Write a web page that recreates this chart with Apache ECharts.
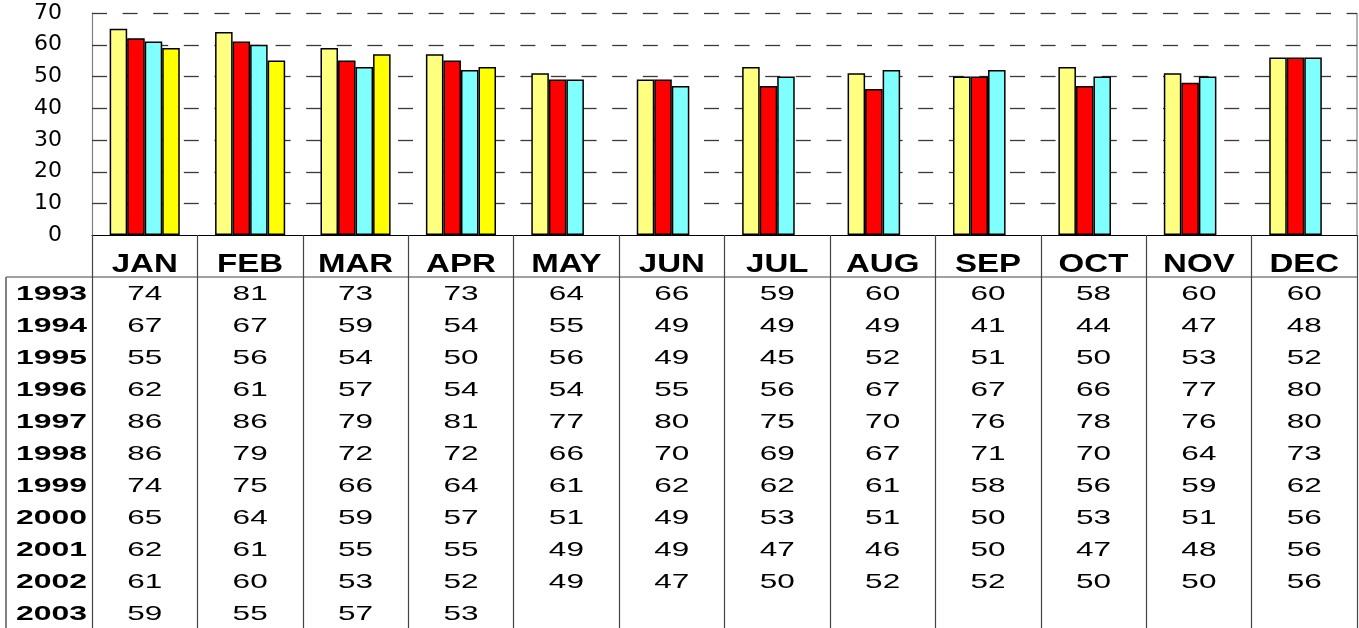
<!DOCTYPE html>
<html>
<head>
<meta charset="utf-8">
<script src="https://cdn.jsdelivr.net/npm/echarts@6/dist/echarts.min.js"></script>
<style>
html,body{margin:0;padding:0;background:#fff;}
#c{width:1359px;height:628px;}
</style>
</head>
<body>
<div id="c"></div>
<script>
// ---- data ----
const months = ['JAN','FEB','MAR','APR','MAY','JUN','JUL','AUG','SEP','OCT','NOV','DEC'];
const years = ['1993','1994','1995','1996','1997','1998','1999','2000','2001','2002','2003'];
const v1993 = [74,81,73,73,64,66,59,60,60,58,60,60];
const v1994 = [67,67,59,54,55,49,49,49,41,44,47,48];
const v1995 = [55,56,54,50,56,49,45,52,51,50,53,52];
const v1996 = [62,61,57,54,54,55,56,67,67,66,77,80];
const v1997 = [86,86,79,81,77,80,75,70,76,78,76,80];
const v1998 = [86,79,72,72,66,70,69,67,71,70,64,73];
const v1999 = [74,75,66,64,61,62,62,61,58,56,59,62];
const v2000 = [65,64,59,57,51,49,53,51,50,53,51,56];
const v2001 = [62,61,55,55,49,49,47,46,50,47,48,56];
const v2002 = [61,60,53,52,49,47,50,52,52,50,50,56];
const v2003 = [59,55,57,53,null,null,null,null,null,null,null,null];
const yTicks = [0,10,20,30,40,50,60,70];

const tableRows = [v1993,v1994,v1995,v1996,v1997,v1998,v1999,v2000,v2001,v2002,v2003];
const barYears = ['2000','2001','2002','2003'];
const barSeries = [v2000,v2001,v2002,v2003];
const barColors = ['#FFFF80','#FF0000','#80FFFF','#FFFF00'];

// ---- layout constants ----
const W = 1359, H = 628;
const gridLeft = 92, gridRight = 2, gridTop = 13, axisY = 235;
const headerLineY = 277, tableLeft = 6;
const monthY = 264.5, firstRowY = 294.5, rowStep = 32;
const dashLen = 15, dashPeriod = 30.6;
const FONT = '"Liberation Sans", Arial, sans-serif';

const chart = echarts.init(document.getElementById('c'));

const option = {
  animation: false,
  backgroundColor: '#fff',
  grid: {left: gridLeft, right: gridRight, top: gridTop, bottom: H - axisY, containLabel: false},
  xAxis: {
    type: 'category',
    data: months,
    boundaryGap: true,
    axisLine: {show: true, lineStyle: {color: '#000', width: 1}},
    axisTick: {show: true, inside: false, length: H - axisY, lineStyle: {color: '#444', width: 1.2}},
    axisLabel: {show: false},
    splitLine: {show: false}
  },
  yAxis: {
    type: 'value',
    min: 0, max: 70, interval: 10,
    axisLine: {show: true, lineStyle: {color: '#808080', width: 1.2}},
    axisTick: {show: false},
    axisLabel: {
      show: true, margin: 30, color: '#000',
      fontFamily: '"DejaVu Sans", sans-serif', fontSize: 22,
      formatter: v => yTicks.includes(v) ? String(v) : ''
    },
    splitLine: {show: false}
  },
  series: barSeries.map((d, i) => ({
    name: barYears[i],
    type: 'bar',
    data: d,
    z: 5,
    barGap: '0%',
    barCategoryGap: '33.5%',
    itemStyle: {color: barColors[i], borderColor: '#000', borderWidth: 1.5},
    emphasis: {disabled: true}
  }))
};
chart.setOption(option);

const g = [];
// long-dash horizontal gridlines at the axis tick values (Excel style), placed via the y axis scale
yTicks.filter(t => t > 0).forEach(t => {
  const y = Math.round(chart.convertToPixel({yAxisIndex: 0}, t)) + 0.5;
  for (let x = gridLeft; x < W - gridRight; x += dashPeriod) {
    g.push({type: 'line', silent: true, z: 1,
      shape: {x1: x, y1: y, x2: Math.min(x + dashLen, W - gridRight), y2: y},
      style: {stroke: '#3a3a3a', lineWidth: 1.3}});
  }
});
// ---- data table drawn as text under the axis ----
months.forEach((m, i) => {
  const cx = chart.convertToPixel({xAxisIndex: 0}, i);
  g.push({
    type: 'text', x: cx, y: monthY, scaleX: 1.27, silent: true,
    style: {text: m, textAlign: 'center', textVerticalAlign: 'middle',
      font: 'bold 26px ' + FONT, fill: '#000'}
  });
  tableRows.forEach((row, r) => {
    const v = row[i];
    if (v === null || v === undefined) return;
    g.push({
      type: 'text', x: cx, y: firstRowY + r * rowStep, scaleX: 1.5, silent: true,
      style: {text: String(v), textAlign: 'center', textVerticalAlign: 'middle',
        font: '21px ' + FONT, fill: '#000'}
    });
  });
});
years.forEach((yname, r) => {
  g.push({
    type: 'text', x: 87, y: firstRowY + r * rowStep, scaleX: 1.52, silent: true,
    style: {text: yname, textAlign: 'right', textVerticalAlign: 'middle',
      font: 'bold 21px ' + FONT, fill: '#000'}
  });
});
// table frame lines and right border of plot
g.push({type: 'line', silent: true, shape: {x1: tableLeft, y1: headerLineY, x2: W - gridRight, y2: headerLineY},
  style: {stroke: '#444', lineWidth: 1.2}});
g.push({type: 'line', silent: true, shape: {x1: tableLeft, y1: headerLineY, x2: tableLeft, y2: H},
  style: {stroke: '#808080', lineWidth: 2}});
g.push({type: 'line', silent: true, shape: {x1: W - gridRight, y1: gridTop, x2: W - gridRight, y2: axisY},
  style: {stroke: '#808080', lineWidth: 1.2}});
chart.setOption({graphic: g});
</script>
</body>
</html>
